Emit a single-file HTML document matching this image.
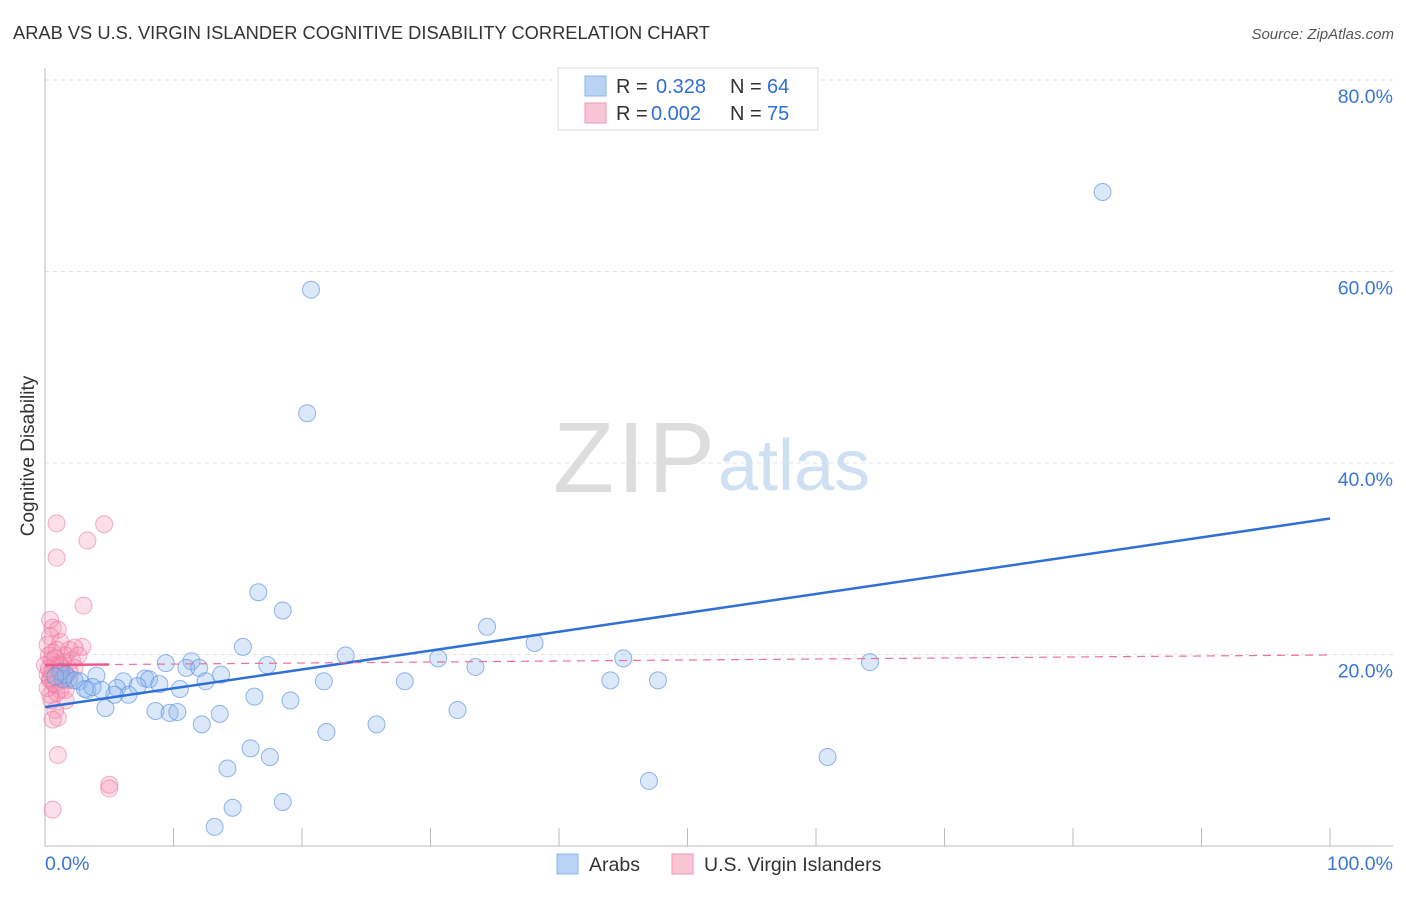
<!DOCTYPE html>
<html><head><meta charset="utf-8">
<style>
body{margin:0;background:#fff;font-family:"Liberation Sans",sans-serif;}
svg text{font-family:"Liberation Sans",sans-serif;}
</style></head>
<body>
<svg id="chart" width="1406" height="892" viewBox="0 0 1406 892">
<text x="13" y="39" font-size="18.3" fill="#333">ARAB VS U.S. VIRGIN ISLANDER COGNITIVE DISABILITY CORRELATION CHART</text>
<text x="1394" y="39" font-size="15" fill="#555" font-style="italic" text-anchor="end">Source: ZipAtlas.com</text>
<g id="grid"></g>
<g>
<text x="553" y="492" font-size="100" font-family="Liberation Serif" fill="#ddd" textLength="162">ZIP</text>
<text x="718" y="490" font-size="72" fill="#cfe0f3">atlas</text>
</g>
<text transform="translate(34,456) rotate(-90)" font-size="19" fill="#333" text-anchor="middle">Cognitive Disability</text>
<g id="pts"></g>
<g id="lines"></g>
<g>
<rect x="558" y="68" width="260" height="62" fill="#fff" stroke="#ddd"/>
<rect x="585" y="76" width="21" height="20" fill="#b9d3f5" stroke="#8ab4ea"/>
<rect x="585" y="103" width="21" height="20" fill="#f9c5d5" stroke="#ef9ab5"/>
<text x="616" y="93" font-size="20" fill="#333">R = </text><text x="656" y="93" font-size="20" fill="#2f6fd6">0.328</text>
<text x="730" y="93" font-size="20" fill="#333">N = </text><text x="767" y="93" font-size="20" fill="#2f6fd6">64</text>
<text x="616" y="120" font-size="20" fill="#333">R = </text><text x="651" y="120" font-size="20" fill="#2f6fd6">0.002</text>
<text x="730" y="120" font-size="20" fill="#333">N = </text><text x="767" y="120" font-size="20" fill="#2f6fd6">75</text>
</g>
<g>
<rect x="557" y="854" width="21" height="20" fill="#b9d3f5" stroke="#8ab4ea"/>
<text x="589" y="871" font-size="19.5" fill="#333">Arabs</text>
<rect x="672" y="854" width="21" height="20" fill="#f9c5d5" stroke="#ef9ab5"/>
<text x="704" y="871" font-size="19.5" fill="#333">U.S. Virgin Islanders</text>
</g>
</svg>
<script>
const blueX=[82.3,20.7,20.4,16.6,18.5,34.4,38.1,15.4,23.4,30.6,45.0,64.2,11.4,9.4,17.3,33.5,11.0,12.0,13.7,12.5,7.8,8.1,8.9,21.7,28.0,44.0,47.7,6.1,4.0,1.9,2.7,1.4,3.3,5.6,7.2,10.5,16.3,19.1,6.5,4.7,8.6,9.7,10.3,13.6,32.1,12.2,25.8,21.9,16.0,17.5,60.9,14.2,47.0,14.6,18.5,13.2,1.2,1.6,0.8,2.3,3.1,5.4,4.4,3.7];
const blueY=[68.3,58.1,45.2,26.5,24.6,22.9,21.2,20.8,19.9,19.6,19.6,19.2,19.3,19.1,18.9,18.7,18.6,18.6,17.9,17.2,17.5,17.4,16.9,17.2,17.2,17.3,17.3,17.2,17.8,17.5,17.2,17.4,16.3,16.5,16.7,16.4,15.6,15.2,15.8,14.4,14.1,13.9,14.0,13.8,14.2,12.7,12.7,11.9,10.2,9.3,9.3,8.1,6.8,4.0,4.6,2.0,18.2,17.9,17.7,17.3,16.4,15.8,16.3,16.6];
const pinkX=[0.9,4.6,3.3,0.9,3.0,0.4,0.6,1.0,2.9,2.3,0.4,0.2,1.2,1.9,1.6,0.5,0.8,1.3,1.0,0.2,0.4,1.8,0.8,1.2,0.4,1.6,0.8,1.0,0.6,1.0,5.0,5.0,0.6,2.1,2.6,0,0.2,0.5,1.4,0.9,0.3,1.6,2.3,1.9,0.5,0.7,1.1,0.3,1.5,0.6,0.9,1.2,0.4,0.8];
const pinkY=[33.7,33.6,31.9,30.1,25.1,23.6,22.8,22.6,20.8,20.7,21.9,21.0,21.3,20.5,19.9,19.4,18.9,18.6,18.2,17.9,17.3,17.3,16.8,16.3,15.8,15.2,14.2,13.4,13.2,9.5,6.4,6.0,3.8,19.4,19.9,18.9,16.5,15.2,19.2,20.5,19.9,16.3,18.6,18.2,18.0,17.0,19.0,18.5,17.6,20.2,16.0,18.8,17.5,19.6];
const blueTrend=[14.5,34.2];
const pinkTrend=[18.9,19.95];
const yTicks=[20,40,60,80];
const xTicks=[0,10,20,30,40,50,60,70,80,90,100];
const NS="http://www.w3.org/2000/svg";
const X=v=>45+v*12.85;
const Y=v=>846-v*9.575;
function mk(tag,attrs,parent){const e=document.createElementNS(NS,tag);for(const k in attrs)e.setAttribute(k,attrs[k]);parent.appendChild(e);return e;}
const grid=document.getElementById('grid');
yTicks.forEach(t=>{
 const l=mk('line',{x1:45,x2:1393,y1:Y(t),y2:Y(t),stroke:'#e3e3e3','stroke-dasharray':'4,4'},grid);
 
 
 const tx=mk('text',{x:1393,y:Y(t)+23,'font-size':19.5,fill:'#3a76d6','text-anchor':'end'},grid);
 tx.textContent=t.toFixed(1)+'%';
 
 
});
const ax=mk('line',{x1:45,x2:45,y1:68,y2:846,stroke:'#bbb'},grid);


const bx=mk('line',{x1:45,x2:1393,y1:846,y2:846,stroke:'#bbb'},grid);


xTicks.slice(1).forEach(t=>{
 const l=mk('line',{x1:X(t),x2:X(t),y1:828,y2:846,stroke:'#bbb'},grid);
 
 
});
[[0,'0.0%','start',45],[100,'100.0%','end',1393]].forEach(d=>{
 const tx=mk('text',{x:d[3],y:870,'font-size':19.5,fill:'#3a76d6','text-anchor':d[2]},grid);
 tx.textContent=d[1];
 
 
});
const pts=document.getElementById('pts');
pinkX.forEach((x,i)=>{
 const c=mk('circle',{cx:X(x),cy:Y(pinkY[i]),r:8.5,fill:'rgba(244,143,177,0.28)',stroke:'rgba(236,112,153,0.55)','stroke-width':1},pts);
 
 
});
blueX.forEach((x,i)=>{
 const c=mk('circle',{cx:X(x),cy:Y(blueY[i]),r:8.5,fill:'rgba(144,186,238,0.33)',stroke:'rgba(90,145,222,0.65)','stroke-width':1},pts);
 
 
});
const lines=document.getElementById('lines');
const bl=mk('line',{x1:X(0),y1:Y(blueTrend[0]),x2:X(100),y2:Y(blueTrend[1]),stroke:'#2f6fd6','stroke-width':2.5},lines);


const pd=mk('line',{x1:X(0),y1:Y(pinkTrend[0]),x2:X(100),y2:Y(pinkTrend[1]),stroke:'#ec7099','stroke-width':1.2,'stroke-dasharray':'8,6'},lines);


const ps=mk('line',{x1:X(0),y1:Y(pinkTrend[0]),x2:X(5),y2:Y(pinkTrend[0]+(pinkTrend[1]-pinkTrend[0])*0.05),stroke:'#ec5a8a','stroke-width':2.5},lines);


</script>
</body></html>
